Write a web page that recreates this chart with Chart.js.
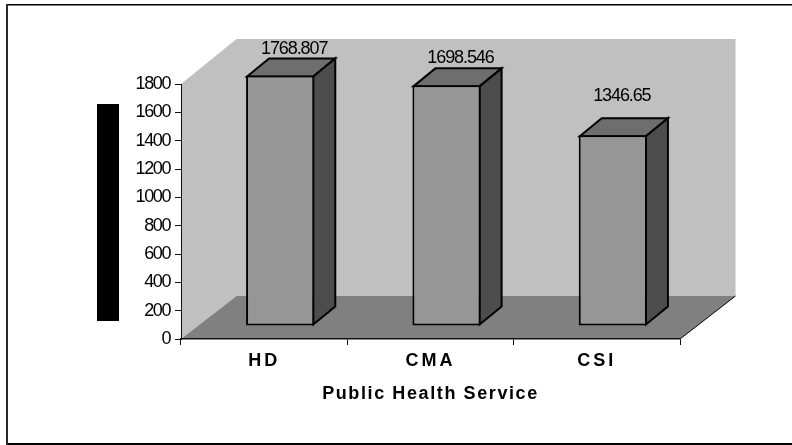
<!DOCTYPE html>
<html>
<head>
<meta charset="utf-8">
<style>
  html, body { margin: 0; padding: 0; background: #fff; }
  canvas { display: block; }
</style>
<script src="https://cdn.jsdelivr.net/npm/chart.js@4"></script>
</head>
<body>
<canvas id="chart" width="792" height="445"></canvas>
<script>
const categories = ['HD', 'CMA', 'CSI'];
const serviceValues = [1768.807, 1698.546, 1346.65];
const valueLabels = ['1768.807', '1698.546', '1346.65'];
const yTicks = [0, 200, 400, 600, 800, 1000, 1200, 1400, 1600, 1800];
const xTitle = 'Public Health Service';

// Pseudo-3D geometry, in pixels
const ROOM = { dx: 55.5, dyFloor: -43, dyTop: -45 };
const BAR = { shiftX: 16, shiftY: -13, dx: 22, dy: -18 };
const LABEL_LIFT = [39, 40, 52];
const LABEL_SHIFT = [14, 14, 9];

const FONT = '"Liberation Sans", Arial, sans-serif';

function poly(ctx, pts) {
  ctx.beginPath();
  pts.forEach((p, i) => (i ? ctx.lineTo(p[0], p[1]) : ctx.moveTo(p[0], p[1])));
  ctx.closePath();
}

function spaceScaleText(scale, labelSpacing, titleSpacing) {
  const ctx = scale.ctx;
  const labels = scale.drawLabels, title = scale.drawTitle;
  scale.drawLabels = function (area) {
    ctx.letterSpacing = labelSpacing;
    labels.call(this, area);
    ctx.letterSpacing = '0px';
  };
  scale.drawTitle = function () {
    ctx.letterSpacing = titleSpacing;
    title.call(this);
    ctx.letterSpacing = '0px';
  };
}

const roomPlugin = {
  id: 'room',
  afterLayout(chart) {
    if (chart.$spaced) return;
    chart.$spaced = true;
    spaceScaleText(chart.scales.y, '-1.4px', '0px');
    spaceScaleText(chart.scales.x, '3px', '1.6px');
  },
  beforeDraw(chart) {
    const { ctx, chartArea: a } = chart;
    const L = a.left, R = a.right, T = a.top, B = a.bottom;
    ctx.save();

    // Outer chart frame, open on the right edge of the page
    ctx.fillStyle = '#000';
    ctx.fillRect(6, 4, 786, 1.5);
    ctx.fillRect(6, 443, 786, 2);
    ctx.fillStyle = '#2a2a2a';
    ctx.fillRect(6, 4, 2, 441);

    // Blocked-out axis caption
    ctx.fillStyle = '#000';
    ctx.fillRect(97, 104, 22, 217);

    // Side and back walls
    ctx.fillStyle = '#c0c0c0';
    poly(ctx, [[L, T], [L + ROOM.dx, T + ROOM.dyTop], [R + ROOM.dx, T + ROOM.dyTop],
      [R + ROOM.dx, B + ROOM.dyFloor], [L + ROOM.dx, B + ROOM.dyFloor], [L, B]]);
    ctx.fill();

    // Floor and its open right edge
    ctx.fillStyle = '#808080';
    poly(ctx, [[L, B], [L + ROOM.dx, B + ROOM.dyFloor], [R + ROOM.dx, B + ROOM.dyFloor], [R, B]]);
    ctx.fill();
    ctx.strokeStyle = '#000';
    ctx.lineWidth = 1;
    ctx.beginPath();
    ctx.moveTo(R, B);
    ctx.lineTo(R + ROOM.dx, B + ROOM.dyFloor);
    ctx.stroke();
    ctx.restore();
  },
  beforeDatasetDraw(chart, args) {
    const ctx = chart.ctx;
    ctx.save();
    ctx.translate(BAR.shiftX, BAR.shiftY);
    ctx.lineWidth = 2;
    ctx.lineJoin = 'miter';
    ctx.strokeStyle = '#000';
    args.meta.data.forEach((el) => {
      const p = el.getProps(['x', 'y', 'base', 'width'], true);
      const l = p.x - p.width / 2 + 1, r = p.x + p.width / 2 - 1;
      const t = p.y + 1, b = p.base - 1;
      ctx.fillStyle = '#6e6e6e';
      poly(ctx, [[l, t], [l + BAR.dx, t + BAR.dy], [r + BAR.dx, t + BAR.dy], [r, t]]);
      ctx.fill();
      ctx.stroke();
      ctx.fillStyle = '#4d4d4d';
      poly(ctx, [[r, t], [r + BAR.dx, t + BAR.dy], [r + BAR.dx, b + BAR.dy], [r, b]]);
      ctx.fill();
      ctx.stroke();
    });
  },
  afterDatasetDraw(chart) {
    chart.ctx.restore();
  },
  afterDatasetsDraw(chart) {
    const { ctx, scales } = chart;
    const meta = chart.getDatasetMeta(0);
    ctx.save();
    ctx.font = '18px ' + FONT;
    ctx.letterSpacing = '-1.1px';
    ctx.fillStyle = '#000';
    ctx.textAlign = 'center';
    ctx.textBaseline = 'middle';
    meta.data.forEach((el, i) => {
      const x = el.x + BAR.shiftX + LABEL_SHIFT[i];
      const y = scales.y.getPixelForValue(serviceValues[i]) - LABEL_LIFT[i];
      ctx.fillText(valueLabels[i], x, y);
    });
    ctx.restore();
  }
};

new Chart(document.getElementById('chart'), {
  type: 'bar',
  data: {
    labels: categories,
    datasets: [{
      data: serviceValues,
      backgroundColor: '#969696',
      borderColor: '#000',
      borderWidth: 2,
      borderSkipped: false,
      barPercentage: 0.41,
      categoryPercentage: 1
    }]
  },
  plugins: [roomPlugin],
  options: {
    responsive: false,
    animation: false,
    layout: { padding: { left: 0, right: 112, top: 84, bottom: 40 } },
    plugins: { legend: { display: false }, tooltip: { enabled: false } },
    scales: {
      x: {
        afterFit(scale) { scale.height = 66; },
        border: { color: '#111', width: 1.5 },
        grid: { drawOnChartArea: false, color: '#111', tickLength: 6, tickWidth: 1 },
        ticks: {
          color: '#000',
          maxRotation: 0,
          padding: 5,
          font: { family: FONT, size: 18, weight: 'bold' }
        },
        title: {
          display: true,
          text: xTitle,
          color: '#000',
          padding: { top: 8, bottom: 0 },
          font: { family: FONT, size: 18, weight: 'bold' }
        }
      },
      y: {
        min: 0,
        max: 1800,
        afterFit(scale) { scale.width = 181; },
        afterBuildTicks(scale) { scale.ticks = yTicks.map((value) => ({ value })); },
        border: { color: '#111', width: 1 },
        grid: { drawOnChartArea: false, color: '#111', tickLength: 6, tickWidth: 1 },
        ticks: {
          color: '#000',
          padding: 5,
          font: { family: FONT, size: 18 },
          callback: (v) => String(v)
        }
      }
    }
  }
});
</script>
</body>
</html>
